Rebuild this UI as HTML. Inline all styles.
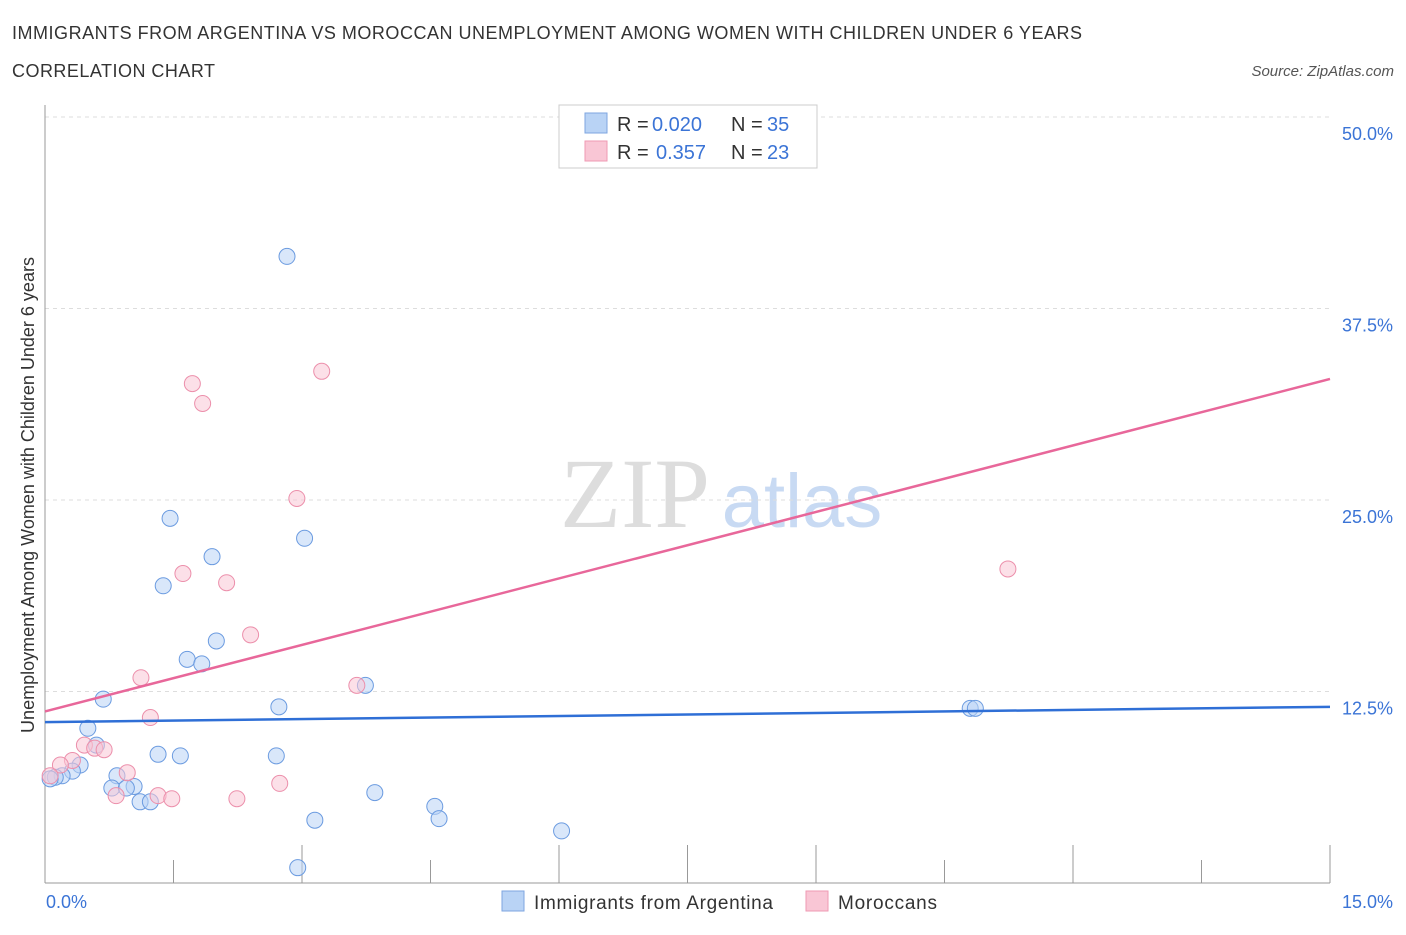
<!DOCTYPE html>
<html><head><meta charset="utf-8"><style>
body{margin:0;background:#fff;font-family:"Liberation Sans",sans-serif;}
</style></head><body>
<svg id="chart" width="1406" height="930" xmlns="http://www.w3.org/2000/svg">
<text x="12" y="39" font-size="18" fill="#333" textLength="1070">IMMIGRANTS FROM ARGENTINA VS MOROCCAN UNEMPLOYMENT AMONG WOMEN WITH CHILDREN UNDER 6 YEARS</text>
<text x="12" y="77" font-size="18" fill="#333" textLength="203">CORRELATION CHART</text>
<text x="1394" y="76" font-size="15" fill="#555" font-style="italic" text-anchor="end">Source: ZipAtlas.com</text>
<text x="635" y="527" font-size="100" fill="#ddd" font-family="Liberation Serif,serif" text-anchor="middle">ZIP</text>
<text x="802" y="527" font-size="76" fill="#c8daf3" text-anchor="middle">atlas</text>
<text transform="translate(34,495) rotate(-90)" font-size="18" fill="#333" text-anchor="middle">Unemployment Among Women with Children Under 6 years</text>
<g id="grid"></g><g id="axes"></g><g id="pts"></g><g id="lines"></g>
<g>
<rect x="559" y="105" width="258" height="63" fill="#fff" stroke="#ccc"/>
<rect x="585" y="113" width="22" height="20" fill="#b9d3f5" stroke="#7ea6e0"/>
<text x="617" y="131" font-size="20" fill="#333">R =</text>
<text x="652" y="131" font-size="20" fill="#3b74d6">0.020</text>
<text x="731" y="131" font-size="20" fill="#333">N =</text>
<text x="767" y="131" font-size="20" fill="#3b74d6">35</text>
<rect x="585" y="141" width="22" height="20" fill="#f9c6d5" stroke="#ef9ab3"/>
<text x="617" y="159" font-size="20" fill="#333">R =</text>
<text x="656" y="159" font-size="20" fill="#3b74d6">0.357</text>
<text x="731" y="159" font-size="20" fill="#333">N =</text>
<text x="767" y="159" font-size="20" fill="#3b74d6">23</text>
</g>
<g>
<rect x="502" y="891" width="22" height="20" fill="#b9d3f5" stroke="#7ea6e0"/>
<text x="534" y="909" font-size="19" fill="#333" textLength="239">Immigrants from Argentina</text>
<rect x="806" y="891" width="22" height="20" fill="#f9c6d5" stroke="#ef9ab3"/>
<text x="838" y="909" font-size="19" fill="#333" textLength="99">Moroccans</text>
</g>
</svg>
<script>
const blueX=[2.825,1.46,1.95,3.03,1.38,2.0,1.66,1.83,0.68,3.74,2.73,0.50,0.60,1.32,1.58,2.70,0.41,0.32,0.20,0.12,0.84,0.78,1.04,0.95,1.11,1.23,3.85,4.55,4.60,3.15,2.95,6.03,10.80,10.86,0.06];
const blueY=[40.9,23.8,21.3,22.5,19.4,15.8,14.6,14.3,12.0,12.9,11.5,10.1,9.0,8.4,8.3,8.3,7.7,7.3,7.0,6.9,7.0,6.2,6.3,6.2,5.3,5.3,5.9,5.0,4.2,4.1,1.0,3.4,11.4,11.4,6.8];
const pinkX=[3.23,1.72,1.84,2.94,1.61,2.12,2.40,1.12,1.23,3.64,11.24,0.46,0.58,0.69,0.32,0.96,0.83,1.32,1.48,2.24,2.74,0.18,0.06];
const pinkY=[33.4,32.6,31.3,25.1,20.2,19.6,16.2,13.4,10.8,12.9,20.5,9.0,8.8,8.7,8.0,7.2,5.7,5.7,5.5,5.5,6.5,7.7,7.0];
const blueTrend=[10.5,11.5];
const pinkTrend=[11.2,32.9];
const yTicks=[12.5,25.0,37.5,50.0];
const xTicks=[0,1.5,3,4.5,6,7.5,9,10.5,12,13.5,15];
const NS="http://www.w3.org/2000/svg";
const sx=v=>45+v*(1285/15), sy=v=>883-v*15.32;
function mk(t,a,p){const e=document.createElementNS(NS,t);for(const k in a)e.setAttribute(k,a[k]);document.getElementById(p).appendChild(e);return e;}
yTicks.forEach(v=>{
 const l=mk('line',{x1:45,x2:1330,y1:sy(v),y2:sy(v),stroke:'#ddd','stroke-dasharray':'4,4'},'grid');
 
 
 const t=mk('text',{x:1393,y:sy(v)+23,'font-size':18,fill:'#3b74d6','text-anchor':'end'},'grid');t.textContent=v.toFixed(1)+'%';
 
 
});
mk('line',{x1:45,x2:45,y1:105,y2:883,stroke:'#999'},'axes');
mk('line',{x1:45,x2:1330,y1:883,y2:883,stroke:'#999'},'axes');
xTicks.forEach(v=>{
 if(v===0)return;
 const l=mk('line',{x1:sx(v),x2:sx(v),y1:883,y2:[1.5,4.5,10.5,13.5].includes(v)?860:845,stroke:'#999'},'axes');
 
 });
const t0=mk('text',{x:46,y:908,'font-size':18,fill:'#3b74d6'},'axes');t0.textContent='0.0%';


const t1=mk('text',{x:1393,y:908,'font-size':18,fill:'#3b74d6','text-anchor':'end'},'axes');t1.textContent='15.0%';


function dots(X,Y,fill,stroke,name){X.forEach((x,i)=>{const c=mk('circle',{cx:sx(x),cy:sy(Y[i]),r:8,fill:fill,'fill-opacity':0.55,stroke:stroke,'stroke-width':1},'pts');
 
 });}
dots(blueX,blueY,'#b9d3f5','#6b9be0','argentina-point');
dots(pinkX,pinkY,'#f9c6d5','#ec8fab','moroccan-point');
const bl=mk('line',{x1:sx(0),y1:sy(blueTrend[0]),x2:sx(15),y2:sy(blueTrend[1]),stroke:'#2f6fd6','stroke-width':2.5},'lines');


const pl=mk('line',{x1:sx(0),y1:sy(pinkTrend[0]),x2:sx(15),y2:sy(pinkTrend[1]),stroke:'#e8679a','stroke-width':2.5},'lines');


</script>
</body></html>
